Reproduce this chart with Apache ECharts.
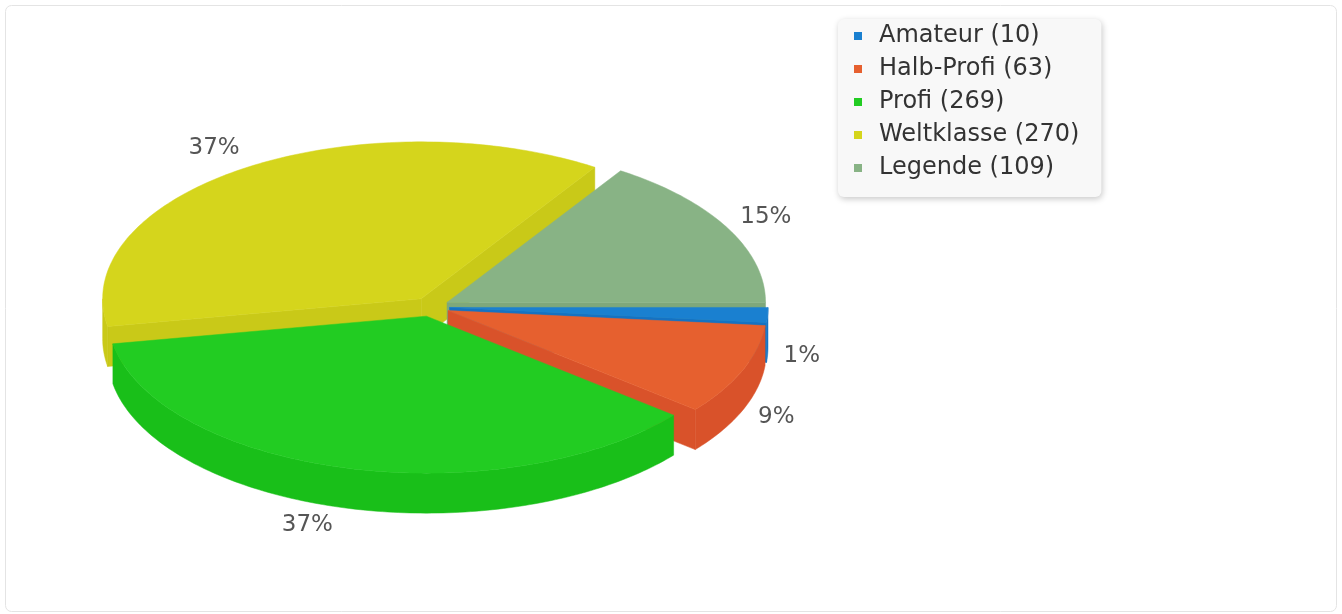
<!DOCTYPE html>
<html><head><meta charset="utf-8">
<script src="https://cdn.jsdelivr.net/npm/echarts@6/dist/echarts.min.js"></script>
<style>html,body{margin:0;padding:0;background:#fff}#c{width:1342px;height:614px}</style>
</head><body><div id="c"></div>
<script>
const categories = ['Amateur', 'Halb-Profi', 'Profi', 'Weltklasse', 'Legende'];
const values = [10, 63, 269, 270, 109];
const topColors = ['#1a80d0', '#e6602f', '#22cc22', '#d5d51c', '#88b385'];
const sideColors = ['#1572c2', '#d9522a', '#19bf19', '#c9c918', '#7ea87b'];

const total = values.reduce((a, b) => a + b, 0);
const starts = [];
let acc = 0;
values.forEach(v => { starts.push(acc); acc += v; });

// layout of the tilted pie
const CX = 430.5, CY = 307, RX = 318.5, RY = 157, EXPLODE = 19, DEPTH = 40;
const K = RY / RX;
const VIEW = 1.1;          // angular foreshortening of the tilted view
const GAP_LEFT = 25, GAP_RIGHT = 16, LABEL_RISE = 16;

// value angle -> projected ellipse parameter
const proj = a => {
  const t = Math.atan2(VIEW * Math.sin(a), Math.cos(a));
  return t < 0 ? t + 2 * Math.PI : t;
};

function renderItem(params, api) {
  const i = params.dataIndex;
  const v = api.value(0);
  const a0 = proj(starts[i] / total * 2 * Math.PI);
  let a1 = proj((starts[i] + v) / total * 2 * Math.PI);
  if (a1 <= a0) a1 += 2 * Math.PI;
  const mid = proj((starts[i] + v / 2) / total * 2 * Math.PI);
  const mc = Math.cos(mid), ms = Math.sin(mid);
  const cx = CX + EXPLODE * mc;
  const cy = CY + EXPLODE * K * ms;
  const P = (t, d) => [cx + RX * Math.cos(t), cy + RY * Math.sin(t) + (d || 0)];
  const arc = (s, t, d) => {
    const n = Math.max(2, Math.ceil((t - s) / (Math.PI / 180)));
    const pts = [];
    for (let j = 0; j <= n; j++) pts.push(P(s + (t - s) * j / n, d));
    return pts;
  };
  const children = [];
  const wz = 50 + Math.round(ms * 40);
  const side = sideColors[i], top = topColors[i];
  // cut walls
  if (Math.cos(a0) < 0) {
    const p = P(a0);
    children.push({type: 'polygon', z2: wz,
      shape: {points: [[cx, cy], p, [p[0], p[1] + DEPTH], [cx, cy + DEPTH]]},
      style: {fill: side, stroke: side, lineWidth: 0.5}});
  }
  if (Math.cos(a1) > 0) {
    const p = P(a1);
    children.push({type: 'polygon', z2: wz,
      shape: {points: [[cx, cy], p, [p[0], p[1] + DEPTH], [cx, cy + DEPTH]]},
      style: {fill: side, stroke: side, lineWidth: 0.5}});
  }
  // outer wall (front half only)
  [[0, Math.PI], [2 * Math.PI, 3 * Math.PI]].forEach(([lo, hi]) => {
    const s = Math.max(a0, lo), t = Math.min(a1, hi);
    if (t > s) {
      const pts = arc(s, t, 0).concat(arc(s, t, DEPTH).reverse());
      children.push({type: 'polygon', z2: wz + 1, shape: {points: pts},
        style: {fill: side, stroke: side, lineWidth: 0.5}});
    }
  });
  // top face
  children.push({type: 'polygon', z2: 200,
    shape: {points: [[cx, cy]].concat(arc(a0, a1, 0))},
    style: {fill: top, stroke: top, lineWidth: 0.5}});
  // label
  const edge = P(mid);
  const pct = Math.round(v / total * 100) + '%';
  children.push({type: 'text', z2: 300,
    style: {
      text: pct,
      x: edge[0] + (mc < 0 ? -GAP_LEFT : GAP_RIGHT),
      y: edge[1] + (ms > 0 ? DEPTH : 0) + LABEL_RISE * ms,
      align: mc < 0 ? 'right' : 'left',
      verticalAlign: 'middle',
      fill: '#555',
      font: '23px "DejaVu Sans"'
    }});
  return {type: 'group', children};
}

const chart = echarts.init(document.getElementById('c'), null, {renderer: 'canvas'});
chart.setOption({
  animation: false,
  backgroundColor: '#fff',
  graphic: [{
    type: 'rect', z: -10, silent: true,
    shape: {x: 5.5, y: 5.5, width: 1331, height: 606, r: 6},
    style: {fill: '#fff', stroke: '#e4e4e4', lineWidth: 1}
  }],
  legend: {
    orient: 'vertical', left: 838, top: 19,
    icon: 'rect', itemWidth: 8, itemHeight: 8, itemGap: 7,
    padding: [4, 22, 16, 16],
    backgroundColor: '#f8f8f8', borderRadius: 6,
    shadowBlur: 6, shadowColor: 'rgba(0,0,0,0.22)', shadowOffsetX: 1, shadowOffsetY: 2,
    textStyle: {fontSize: 24, fontFamily: 'DejaVu Sans', color: '#333', lineHeight: 26, padding: [0, 0, 0, 12]},
    data: categories,
    formatter: name => name + ' (' + values[categories.indexOf(name)] + ')'
  },
  series: [
    {
      type: 'custom', name: 'pie3d', coordinateSystem: 'none',
      renderItem: renderItem, silent: true,
      data: values.map(v => [v])
    },
    {
      type: 'pie', name: 'legendSource', radius: [0, 0], center: [CX, CY], silent: true,
      label: {show: false}, labelLine: {show: false},
      data: categories.map((n, i) => ({name: n, value: values[i], itemStyle: {color: topColors[i]}}))
    }
  ]
});
</script>
</body></html>
